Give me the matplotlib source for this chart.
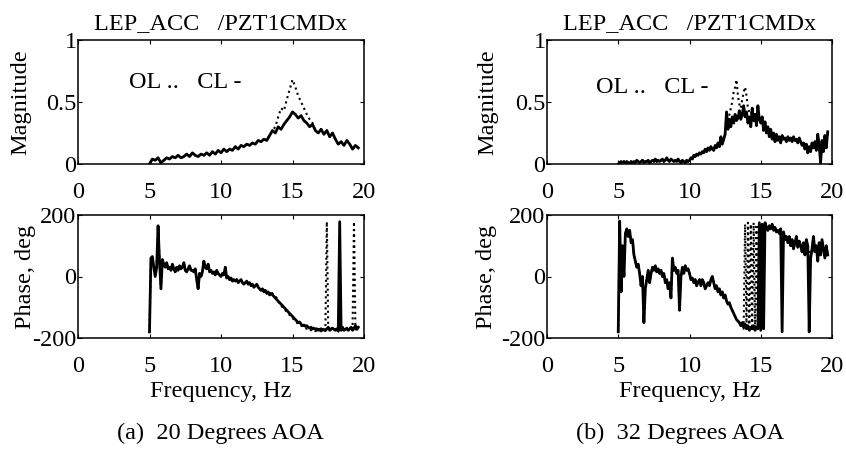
import numpy as np
import matplotlib
matplotlib.use("Agg")
import matplotlib.pyplot as plt

plt.rcParams['font.family'] = ['Liberation Serif', 'DejaVu Serif']
plt.rcParams['axes.unicode_minus'] = False

# ---- (a) 20 deg AOA, magnitude, 0.2 Hz steps from 5.0 to 19.6 Hz
freq_a_mag = np.round(np.arange(5.0, 19.61, 0.2), 2)
mag_a_cl = [0.00, 0.04, 0.03, 0.05, 0.01, 0.03, 0.05, 0.04, 0.06, 0.05,
            0.07, 0.05, 0.06, 0.08, 0.06, 0.09, 0.07, 0.06, 0.08, 0.07,
            0.09, 0.07, 0.10, 0.08, 0.11, 0.09, 0.12, 0.10, 0.12, 0.11,
            0.14, 0.12, 0.15, 0.14, 0.16, 0.15, 0.17, 0.16, 0.19, 0.18,
            0.20, 0.19, 0.23, 0.27, 0.25, 0.30, 0.28, 0.32, 0.35, 0.38,
            0.42, 0.40, 0.37, 0.39, 0.35, 0.33, 0.30, 0.32, 0.27, 0.25,
            0.28, 0.24, 0.27, 0.22, 0.25, 0.20, 0.16, 0.18, 0.15, 0.19,
            0.16, 0.12, 0.15, 0.13]
mag_a_ol = [0.00, 0.04, 0.03, 0.05, 0.01, 0.03, 0.05, 0.04, 0.06, 0.05,
            0.07, 0.05, 0.06, 0.08, 0.06, 0.09, 0.07, 0.06, 0.08, 0.07,
            0.09, 0.07, 0.10, 0.08, 0.11, 0.09, 0.12, 0.10, 0.12, 0.11,
            0.14, 0.12, 0.15, 0.14, 0.16, 0.15, 0.17, 0.16, 0.19, 0.18,
            0.20, 0.19, 0.23, 0.27, 0.30, 0.38, 0.45, 0.43, 0.52, 0.60,
            0.68, 0.62, 0.55, 0.50, 0.45, 0.40, 0.36, 0.33, 0.27, 0.25,
            0.28, 0.24, 0.27, 0.22, 0.25, 0.20, 0.16, 0.18, 0.15, 0.19,
            0.16, 0.12, 0.15, 0.13]

# ---- (a) phase, 0.1 Hz steps from 5.0 to 19.6 Hz
freq_a_ph = np.round(np.arange(5.0, 19.61, 0.1), 2)
ph_a_cl = [-180, 60, 65, 30, 0, 30, 165, 50, -40, 55,
           40, 30, 45, 25, 30, 20, 40, 25, 15, 30,
           20, 35, 25, 30, 45, 20, 15, 25, 35, 20,
           20, 15, 25, -10, -40, 10, 0, 15, 50, 30,
           25, 40, 15, 20, 10, 15, 5, 20, 10, 5,
           0, 10, 5, 30, -5, 0, -10, -5, -15, -10,
           -15, -10, -20, -15, -10, -20, -25, -20, -15, -25,
           -20, -30, -25, -35, -30, -25, -35, -40, -45, -40,
           -50, -45, -55, -50, -60, -55, -60, -65, -70, -75,
           -80, -85, -90, -95, -100, -105, -110, -115, -120, -125,
           -130, -135, -140, -145, -150, -148, -155, -160, -158, -162,
           -160, -165, -168, -165, -170, -168, -172, -170, -175, -172,
           -170, -175, -172, -176, -170, -165, -175, -170, -168, -172,
           -175, -170, -178, 178, -175, -165, -175, -172, -168, -175,
           -170, -165, -175, -168, -160, -172, -165]
ph_a_ol = [-180, 60, 65, 30, 0, 30, 165, 50, -40, 55,
           40, 30, 45, 25, 30, 20, 40, 25, 15, 30,
           20, 35, 25, 30, 45, 20, 15, 25, 35, 20,
           20, 15, 25, -10, -40, 10, 0, 15, 50, 30,
           25, 40, 15, 20, 10, 15, 5, 20, 10, 5,
           0, 10, 5, 30, -5, 0, -10, -5, -15, -10,
           -15, -10, -20, -15, -10, -20, -25, -20, -15, -25,
           -20, -30, -25, -35, -30, -25, -35, -40, -45, -40,
           -50, -45, -55, -50, -60, -50, -55, -60, -65, -70,
           -80, -90, -95, -100, -105, -110, -115, -120, -125, -130,
           -135, -140, -145, -150, -155, -158, -160, -162, -165, -168,
           -170, -168, -172, -175, -172, -175, -178, -175, -177, -176,
           -178, -175, -178, -176, 178, -178, -175, -172, -170, -175,
           -172, -176, -170, -174, -172, -168, -175, -170, -172, -168,
           -170, -172, -168, 178, -172, -170, -168]

# ---- (b) 32 deg AOA, magnitude, 0.1 Hz steps from 5.0 to 19.7 Hz
freq_b = np.round(np.arange(5.0, 19.71, 0.1), 2)
mag_b_cl = [0.00, 0.01, 0.02, 0.01, 0.02, 0.01, 0.02, 0.01, 0.00, 0.02,
            0.01, 0.02, 0.01, 0.03, 0.02, 0.01, 0.02, 0.03, 0.01, 0.02,
            0.02, 0.03, 0.01, 0.02, 0.03, 0.02, 0.04, 0.02, 0.03, 0.02,
            0.03, 0.04, 0.02, 0.03, 0.05, 0.03, 0.02, 0.04, 0.03, 0.02,
            0.03, 0.02, 0.04, 0.02, 0.01, 0.03, 0.02, 0.01, 0.03, 0.02,
            0.03, 0.05, 0.04, 0.07, 0.06, 0.08, 0.07, 0.09, 0.08, 0.10,
            0.09, 0.12, 0.10, 0.13, 0.11, 0.14, 0.12, 0.11, 0.15, 0.13,
            0.17, 0.14, 0.22, 0.16, 0.20, 0.24, 0.42, 0.28, 0.36, 0.30,
            0.38, 0.33, 0.40, 0.35, 0.37, 0.43, 0.36, 0.40, 0.47, 0.38,
            0.42, 0.33, 0.38, 0.30, 0.45, 0.35, 0.40, 0.31, 0.47, 0.36,
            0.33, 0.38, 0.27, 0.34, 0.25, 0.30, 0.22, 0.28, 0.20, 0.25,
            0.18, 0.24, 0.19, 0.22, 0.17, 0.23, 0.20, 0.21, 0.18, 0.22,
            0.19, 0.21, 0.18, 0.22, 0.19, 0.20, 0.17, 0.21, 0.18, 0.15,
            0.17, 0.12, 0.16, 0.09, 0.14, 0.10, 0.17, 0.13, 0.18, 0.11,
            0.24, 0.15, 0.01, 0.19, 0.10, 0.23, 0.13, 0.26]
mag_b_ol = [0.00, 0.01, 0.02, 0.01, 0.02, 0.01, 0.02, 0.01, 0.00, 0.02,
            0.01, 0.02, 0.01, 0.03, 0.02, 0.01, 0.02, 0.03, 0.01, 0.02,
            0.02, 0.03, 0.01, 0.02, 0.03, 0.02, 0.04, 0.02, 0.03, 0.02,
            0.03, 0.04, 0.02, 0.03, 0.05, 0.03, 0.02, 0.04, 0.03, 0.02,
            0.03, 0.02, 0.04, 0.02, 0.01, 0.03, 0.02, 0.01, 0.03, 0.02,
            0.03, 0.05, 0.04, 0.07, 0.06, 0.08, 0.07, 0.09, 0.08, 0.10,
            0.09, 0.12, 0.10, 0.13, 0.11, 0.14, 0.12, 0.11, 0.15, 0.13,
            0.17, 0.14, 0.22, 0.16, 0.20, 0.24, 0.42, 0.30, 0.40, 0.45,
            0.50, 0.58, 0.62, 0.68, 0.55, 0.48, 0.45, 0.52, 0.58, 0.62,
            0.55, 0.45, 0.42, 0.40, 0.45, 0.38, 0.40, 0.31, 0.47, 0.36,
            0.33, 0.38, 0.27, 0.34, 0.25, 0.30, 0.22, 0.28, 0.20, 0.25,
            0.18, 0.24, 0.19, 0.22, 0.17, 0.23, 0.20, 0.21, 0.18, 0.22,
            0.19, 0.21, 0.18, 0.22, 0.19, 0.20, 0.17, 0.21, 0.18, 0.15,
            0.17, 0.12, 0.16, 0.09, 0.14, 0.10, 0.17, 0.13, 0.18, 0.11,
            0.24, 0.15, 0.01, 0.19, 0.10, 0.23, 0.13, 0.26]

# ---- (b) phase
ph_b_cl = [-180, 180, -50, 100, 0, 140, 155, 130, 150, 110,
           120, 70, 50, 30, 40, 10, -30, 0, -150, -40,
           -10, 20, -20, 10, 30, 20, 35, 15, 25, 10,
           20, 0, 10, -20, -10, -40, -20, -70, 60, 20,
           30, 10, 20, -110, 0, 30, 10, 35, 20, 25,
           10, -10, -5, -20, -10, -30, -20, -10, -30, -10,
           -20, -40, -30, -20, -30, -10, 0, -20, -40, -30,
           -50, -40, -60, -50, -70, -60, -80, -90, -85, -100,
           -110, -120, -130, -140, -145, -150, -160, -150, -165, -155,
           -170, -160, -175, -165, -170, -160, -175, -165, -170, 175,
           -175, 170, -170, 175, 160, 150, 165, 155, 170, 150,
           160, 145, 150, 140, 155, -180, 145, 120, 130, 110,
           130, 100, 120, 90, 110, 130, 95, 115, 100, 80,
           110, 70, 120, 100, -180, 60, 90, 130, 80, 100,
           50, 110, 70, 120, 90, 60, 100, 70]
ph_b_ol = [-180, 180, -50, 100, 0, 140, 155, 130, 150, 110,
           120, 70, 50, 30, 40, 10, -30, 0, -150, -40,
           -10, 20, -20, 10, 30, 20, 35, 15, 25, 10,
           20, 0, 10, -20, -10, -40, -20, -70, 60, 20,
           30, 10, 20, -110, 0, 30, 10, 35, 20, 25,
           10, -10, -5, -20, -10, -30, -20, -10, -30, -10,
           -20, -40, -30, -20, -30, -10, 0, -20, -40, -30,
           -50, -40, -60, -50, -70, -60, -80, -90, -85, -100,
           -110, -120, -130, -140, -145, -150, -160, -150, -170, 170,
           -170, 175, -175, 170, -170, 175, -175, 170, -170, 165,
           160, 170, 165, 160, 165, 150, 165, 155, 170, 150,
           160, 145, 150, 140, 155, 135, 145, 120, 130, 110,
           130, 100, 120, 90, 110, 130, 95, 115, 100, 80,
           110, 70, 120, 100, 85, 60, 90, 130, 80, 100,
           50, 110, 70, 120, 90, 60, 100, 70]

title_text = "LEP_ACC   /PZT1CMDx"
legend_text = "OL ..   CL -"
captions = ["(a)  20 Degrees AOA", "(b)  32 Degrees AOA"]

fs = 17.5
W, H = 846, 450

fig = plt.figure(figsize=(8.46, 4.5), dpi=100)


def style(ax, yticks, ylim):
    ax.set_xlim(0, 20)
    ax.set_ylim(*ylim)
    ax.set_xticks([0, 5, 10, 15, 20])
    ax.set_yticks(yticks)
    ax.tick_params(direction='in', top=True, right=True, length=3,
                   labelsize=fs, pad=1)
    ax.tick_params(axis='x', pad=13)
    for s in ax.spines.values():
        s.set_linewidth(1.1)


# pixel layout of each column: axes left/right, ylabel x centres, caption x, text pos
cols = [
    dict(x0=78, x1=364, fm=freq_a_mag, mol=mag_a_ol, mcl=mag_a_cl,
         fp=freq_a_ph, pol=ph_a_ol, pcl=ph_a_cl, txt=(3.6, 0.66),
         mlab=21, plab=25, cap=220),
    dict(x0=547, x1=832, fm=freq_b, mol=mag_b_ol, mcl=mag_b_cl,
         fp=freq_b, pol=ph_b_ol, pcl=ph_b_cl, txt=(3.45, 0.62),
         mlab=488, plab=486, cap=680),
]

for i, c in enumerate(cols):
    x0, x1 = c['x0'], c['x1']
    wpx = x1 - x0
    ax1 = fig.add_axes([x0 / W, 1 - 164 / H, wpx / W, 124 / H])
    ax1.plot(c['fm'], c['mol'], color='black', ls=':', lw=1.5)
    ax1.plot(c['fm'], c['mcl'], color='black', ls='-', lw=2.0)
    style(ax1, [0, 0.5, 1], (0, 1))
    ax1.set_yticklabels(['0', '0.5', '1'])
    ax1.set_ylabel("Magnitude", fontsize=fs, va='center')
    ax1.yaxis.set_label_coords((c['mlab'] - x0) / wpx, 0.5)
    ax1.set_title(title_text, fontsize=fs, pad=8)
    ax1.text(c['txt'][0], c['txt'][1], legend_text, fontsize=fs,
             va='center', ha='left')

    ax2 = fig.add_axes([x0 / W, 1 - 338 / H, wpx / W, 123 / H])
    ax2.plot(c['fp'], c['pol'], color='black', ls=':', lw=1.5)
    ax2.plot(c['fp'], c['pcl'], color='black', ls='-', lw=2.0)
    style(ax2, [-200, 0, 200], (-200, 200))
    ax2.set_ylabel("Phase, deg", fontsize=fs, va='center')
    ax2.yaxis.set_label_coords((c['plab'] - x0) / wpx, 0.5)
    ax2.set_xlabel("Frequency, Hz", fontsize=fs, labelpad=3)
    fig.text(c['cap'] / W, 1 - 433 / H, captions[i], fontsize=fs,
             ha='center', va='center')

fig.savefig("out.png", dpi=100)
